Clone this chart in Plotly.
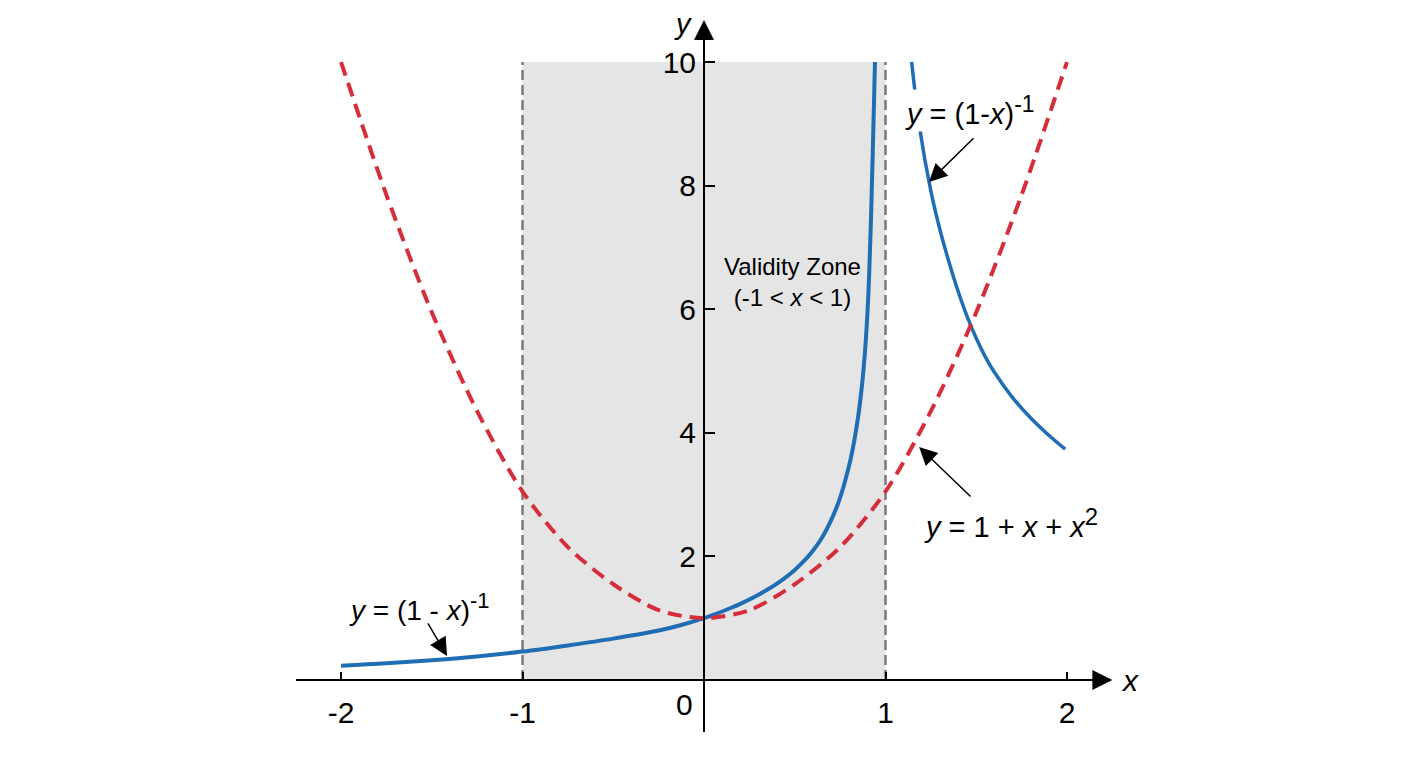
import plotly.graph_objects as go

# values
blueInnerX = [-2.0, -1.75, -1.5, -1.25, -1.0, -0.75, -0.5, -0.25, -0.125, 0.0, 0.05, 0.1, 0.15, 0.2,
              0.25, 0.3, 0.35, 0.4, 0.45, 0.5, 0.55, 0.6, 0.65, 0.7, 0.75, 0.8, 0.825, 0.85,
              0.87, 0.885, 0.9, 0.91, 0.92, 0.93, 0.942]
blueInnerY = [0.23, 0.27, 0.32, 0.38, 0.46, 0.56, 0.67, 0.80, 0.89, 1.0, 1.053, 1.109, 1.169, 1.233,
              1.303, 1.38, 1.464, 1.557, 1.662, 1.782, 1.922, 2.092, 2.302, 2.582, 2.952, 3.477, 3.827, 4.277,
              4.757, 5.237, 5.912, 6.562, 7.462, 8.562, 10.0]

blueOuterX = [1.144, 1.19, 1.25, 1.3, 1.35, 1.4, 1.45, 1.5, 1.55, 1.6, 1.7, 1.8, 1.9, 1.99]
blueOuterY = [10.0, 8.9, 7.91, 7.285, 6.76, 6.29, 5.88, 5.53, 5.23, 4.98, 4.57, 4.24, 3.96, 3.735]

redX = [-2.0, -1.75, -1.5, -1.25, -1.0, -0.75, -0.5, -0.25, 0.0, 0.25, 0.5, 0.75, 1.0, 1.25, 1.5, 1.75, 2.0]
redY = [10.0, 7.85, 5.95, 4.35, 3.05, 2.15, 1.55, 1.13, 1.0, 1.13, 1.55, 2.15, 3.05, 4.35, 5.95, 7.85, 10.0]

xTickVals = [-2, -1, 1, 2]
xTickText = ["-2", "-1", "1", "2"]
yTickVals = [2, 4, 6, 8, 10]
yTickText = ["2", "4", "6", "8", "10"]

zoneX = [-1, 1]
zoneY = [0, 10]

FONT = "Liberation Sans, Arial, sans-serif"
BLUE = "#1f6db4"
RED = "#d62d3b"

fig = go.Figure()

fig.add_trace(go.Scatter(x=blueInnerX, y=blueInnerY, mode="lines",
                         line=dict(color=BLUE, width=4, shape="spline", smoothing=1, simplify=False)))
fig.add_trace(go.Scatter(x=blueOuterX, y=blueOuterY, mode="lines",
                         line=dict(color=BLUE, width=3.5, shape="spline", smoothing=1, simplify=False)))
fig.add_trace(go.Scatter(x=redX, y=redY, mode="lines",
                         line=dict(color=RED, width=4, dash="14px,8px", shape="spline",
                                   smoothing=0.8, simplify=False)))

# validity zone
fig.add_shape(type="rect", x0=zoneX[0], x1=zoneX[1], y0=zoneY[0], y1=zoneY[1],
              fillcolor="#e5e5e5", line_width=0, layer="below")
for xv in zoneX:
    fig.add_shape(type="line", x0=xv, x1=xv, y0=zoneY[0], y1=zoneY[1],
                  line=dict(color="#7a7a7a", width=2.5, dash="10px,5px"), layer="below")

# axis lines
fig.add_shape(type="line", x0=-2.248, x1=2.2, y0=0, y1=0, line=dict(color="black", width=2))
fig.add_shape(type="line", x0=0, x1=0, y0=-0.841, y1=10.5, line=dict(color="black", width=2))

anns = []
# axis arrows
anns.append(dict(x=2.25, y=0, ax=2.1, ay=0, axref="x", ayref="y", text="", showarrow=True,
                 arrowhead=2, arrowsize=2, arrowwidth=2, arrowcolor="black"))
anns.append(dict(x=0, y=10.68, ax=0, ay=10.3, axref="x", ayref="y", text="", showarrow=True,
                 arrowhead=2, arrowsize=2, arrowwidth=2, arrowcolor="black"))
anns.append(dict(x=2.347, y=0.0, text="<i>x</i>", showarrow=False, font=dict(size=30)))
anns.append(dict(x=-0.116, y=10.62, text="<i>y</i>", showarrow=False, font=dict(size=29)))
anns.append(dict(x=-0.11, y=-0.40, text="0", showarrow=False, font=dict(size=30)))

anns.append(dict(x=0.49, y=6.44, text="Validity Zone<br>(-1 < <i>x</i> < 1)", showarrow=False,
                 font=dict(size=24), align="center"))

# curve labels
anns.append(dict(x=1.463, y=9.22,
                 text="<i>y</i> = (1-<i>x</i>)<sup><span style='font-size:23px'>-1</span></sup>",
                 showarrow=False, font=dict(size=29), bgcolor="white", borderpad=1))
anns.append(dict(x=1.240, y=8.06, ax=1.493, ay=8.79, axref="x", ayref="y", text="", showarrow=True,
                 arrowhead=2, arrowsize=2.4, arrowwidth=1.5, arrowcolor="black"))

anns.append(dict(x=1.69, y=2.54,
                 text="<i>y</i> = 1 + <i>x</i> + <i>x</i><sup><span style='font-size:24px'>2</span></sup>",
                 showarrow=False, font=dict(size=29)))
anns.append(dict(x=1.185, y=3.77, ax=1.477, ay=2.945, axref="x", ayref="y", text="", showarrow=True,
                 arrowhead=2, arrowsize=2.4, arrowwidth=1.5, arrowcolor="black"))

anns.append(dict(x=-1.57, y=1.18,
                 text="<i>y</i> = (1 - <i>x</i>)<sup><span style='font-size:22px'>-1</span></sup>",
                 showarrow=False, font=dict(size=28)))
anns.append(dict(x=-1.416, y=0.39, ax=-1.526, ay=0.94, axref="x", ayref="y", text="", showarrow=True,
                 arrowhead=2, arrowsize=2.4, arrowwidth=1.5, arrowcolor="black"))

# the page body adds an 8px margin, so the ranges are shifted to keep x=0 at 704px and y=0 at 680px
fig.update_layout(
    width=1408, height=768,
    margin=dict(l=0, r=0, t=0, b=0),
    paper_bgcolor="white", plot_bgcolor="white",
    showlegend=False, hovermode=False,
    font=dict(family=FONT, color="black"),
    annotations=anns,
    xaxis=dict(range=[-3.835, 3.923], domain=[0, 1], anchor="free", position=96 / 768,
               showline=False, showgrid=False, zeroline=False,
               tickvals=xTickVals, ticktext=xTickText, ticks="inside", ticklen=8,
               tickwidth=1.5, tickcolor="black", tickfont=dict(size=30),
               ticklabelstandoff=12, fixedrange=True),
    yaxis=dict(range=[-1.553, 10.874], domain=[0, 1], anchor="free", position=696 / 1408,
               showline=False, showgrid=False, zeroline=False,
               tickvals=yTickVals, ticktext=yTickText, ticks="inside", ticklen=10,
               tickwidth=1.5, tickcolor="black", tickfont=dict(size=30),
               ticklabelstandoff=8, fixedrange=True),
)

fig.write_html("out.html")
